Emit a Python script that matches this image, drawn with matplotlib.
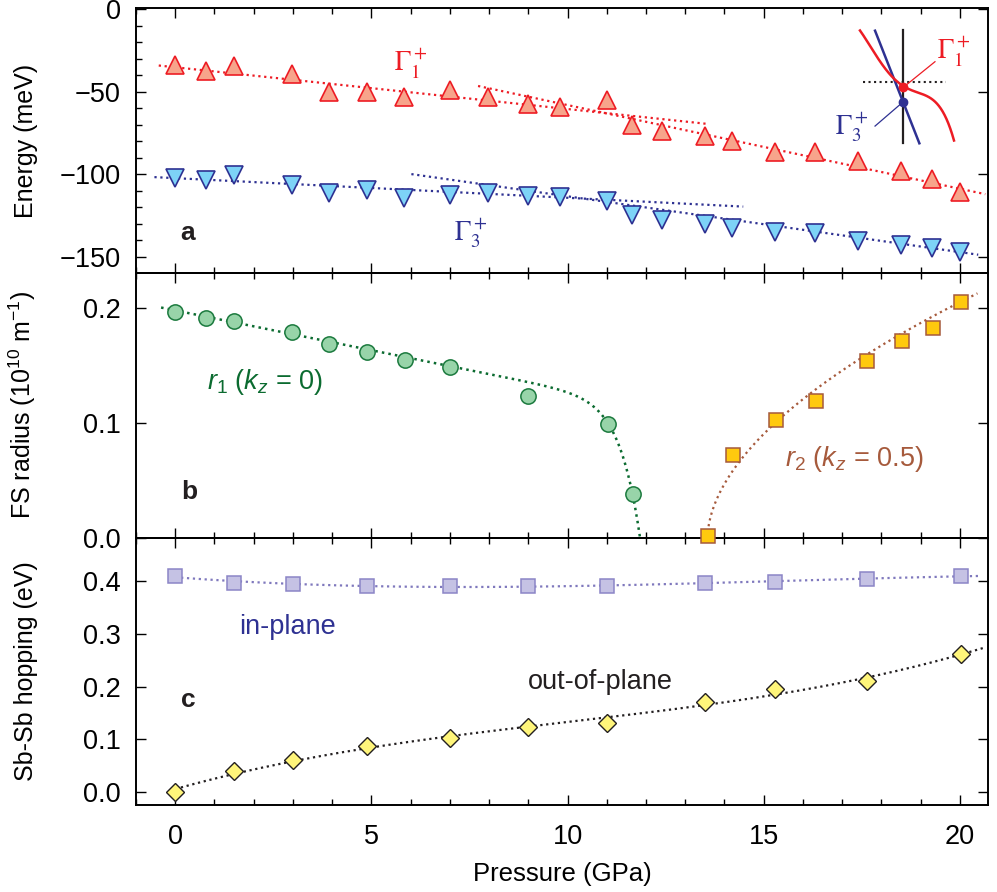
import numpy as np
import matplotlib
matplotlib.use("Agg")
import matplotlib.pyplot as plt
from matplotlib.ticker import MultipleLocator

plt.rcParams["font.family"] = ["Liberation Sans", "DejaVu Sans"]
plt.rcParams["mathtext.fontset"] = "custom"
plt.rcParams["mathtext.rm"] = "Liberation Sans"
plt.rcParams["mathtext.it"] = "Liberation Sans:italic"
plt.rcParams["mathtext.bf"] = "Liberation Sans:bold"

# ---- data ----
# panel a: energies at Gamma (meV)
p_gamma = [0, 0.79, 1.5, 2.98, 3.91, 4.9, 5.83, 7.0, 7.98, 9.0, 9.8,
           11.0, 11.65, 12.42, 13.5, 14.2, 15.3, 16.3, 17.4, 18.5, 19.3, 20.0]
e_g1 = [-33.6, -37.1, -34.2, -39.1, -50.2, -50.2, -53.2, -48.8, -53.2, -57.3, -58.9,
        -54.8, -70.0, -73.6, -76.5, -79.5, -86.6, -86.6, -91.6, -97.9, -102.7, -110.8]
e_g3 = [-102.3, -103.3, -100.3, -106.4, -111.0, -109.4, -114.4, -112.4, -111.0, -113.4, -114.0,
        -116.0, -124.5, -127.6, -130.0, -132.6, -134.7, -135.6, -140.1, -142.7, -144.7, -146.8]

# linear fits drawn as dotted lines: (p_start, p_end, intercept, slope)
fits_g1 = [(-0.42, 13.55, -35.1, -2.53), (7.72, 20.65, -7.3, -5.07)]
fits_g3 = [(-0.53, 14.48, -102.3, -1.19), (6.02, 20.47, -79.5, -3.38)]

# panel b: Fermi surface radii (1e10 1/m)
p_r1 = [0, 0.79, 1.5, 2.98, 3.91, 4.9, 5.85, 7.0, 9.0, 11.02, 11.66]
r1 = [0.1965, 0.1913, 0.1879, 0.1784, 0.1683, 0.1614, 0.1542, 0.1484, 0.1236, 0.0991, 0.038]
p_r2 = [13.57, 14.21, 15.31, 16.33, 17.63, 18.52, 19.33, 20.03]
r2 = [0.002, 0.072, 0.102, 0.1193, 0.1533, 0.1712, 0.1822, 0.2052]

# fit curve parameters
r1_fit = dict(a=0.1975, b=0.0069, pc=11.85, n=24, p0=-0.36)
r2_fit = dict(a=0.0742, pc=13.57, beta=0.545, p1=20.45)

# panel c: Sb-Sb hopping (eV)
p_hop = [0, 1.5, 3.0, 4.9, 7.0, 9.0, 11.0, 13.51, 15.3, 17.63, 20.03]
t_in = [0.410, 0.397, 0.394, 0.391, 0.391, 0.390, 0.3917, 0.397, 0.399, 0.4044, 0.410]
t_out = [0.0, 0.0393, 0.0603, 0.0869, 0.1015, 0.1236, 0.131, 0.170, 0.1947, 0.211, 0.261]

# inset schematic (inset axes units)
inset_red_u = [0.045, 0.136, 0.257, 0.348, 0.439, 0.561, 0.682, 0.788, 0.9]
inset_red_v = [0.968, 0.869, 0.684, 0.541, 0.493, 0.485, 0.413, 0.271, 0.049]

# colours
RED = "#ed1c24"
SALMON = "#f7a48b"
BLUE = "#2e3192"
SKY = "#7dd3f7"
GREEN = "#0b6b30"
GREEN_FACE = "#98d4a9"
GREEN_EDGE = "#1b7a3e"
ORANGE = "#ffc90e"
BROWN = "#a65a3c"
LAV_FACE = "#c5c2e4"
LAV_EDGE = "#8b85c6"
LAV_LINE = "#7f78bd"
YELLOW = "#fff57a"
INK = "#231f20"

FS = 19.5

fig = plt.figure(figsize=(9.97, 8.92), dpi=100)
left, width = 0.1364, 0.8546
ax_a = fig.add_axes([left, 0.6939, width, 0.2971])
ax_b = fig.add_axes([left, 0.3969, width, 0.2971])
ax_c = fig.add_axes([left, 0.0975, width, 0.2993])
ax_b.set_zorder(3)
ax_b.patch.set_alpha(0)

for ax in (ax_a, ax_b, ax_c):
    ax.set_xlim(-1.0, 20.72)
    ax.xaxis.set_major_locator(MultipleLocator(5))
    ax.xaxis.set_minor_locator(MultipleLocator(1))
    ax.tick_params(which="both", direction="in", top=True, right=True, width=1.0,
                   labelsize=FS)
    ax.tick_params(axis="y", pad=11)
    ax.tick_params(axis="x", pad=14)
    ax.tick_params(which="major", length=7)
    ax.tick_params(which="minor", length=4.5)
    ax.tick_params(axis="y", which="minor", right=False)
    for s in ax.spines.values():
        s.set_linewidth(1.4)
    ax.yaxis.set_label_coords(-0.115, 0.5)

ax_a.tick_params(labelbottom=False)
ax_b.tick_params(labelbottom=False)

# ---- panel a ----
ax = ax_a
for p0, p1, c0, c1 in fits_g1:
    pp = np.array([p0, p1])
    ax.plot(pp, c0 + c1 * pp, ls=":", color=RED, lw=1.6)
for p0, p1, c0, c1 in fits_g3:
    pp = np.array([p0, p1])
    ax.plot(pp, c0 + c1 * pp, ls=":", color=BLUE, lw=1.6)
ax.plot(p_gamma, e_g1, ls="none", marker="^", ms=12.5, mfc=SALMON, mec=RED, mew=1.2, zorder=4)
ax.plot(p_gamma, e_g3, ls="none", marker="v", ms=12.5, mfc=SKY, mec=BLUE, mew=1.2, zorder=4)
ax.set_ylim(-159.8, 0.8)
ax.yaxis.set_major_locator(MultipleLocator(50))
ax.yaxis.set_minor_locator(MultipleLocator(10))
ax.set_ylabel("Energy (meV)", fontsize=18)
ax.text(6.0, -33.0, r"$\Gamma_1^+$", color=RED, fontsize=FS, ha="center", va="center",
        math_fontfamily="stix")
ax.text(7.53, -136.0, r"$\Gamma_3^+$", color=BLUE, fontsize=FS, ha="center", va="center",
        math_fontfamily="stix")
ax.text(0.31, -135.5, "a", fontsize=19, fontweight="bold", ha="center", va="center", color=INK)

# inset schematic
ax_in = fig.add_axes([0.8576, 0.8374, 0.1103, 0.1312])
ax_in.set_xlim(0, 1)
ax_in.set_ylim(0, 1)
ax_in.axis("off")
coef = np.polyfit(inset_red_u, inset_red_v, 4)
uu = np.linspace(inset_red_u[0], inset_red_u[-1], 200)
ax_in.plot([0.075, 0.827], [0.541, 0.541], ls=":", color=INK, lw=1.5)
ax_in.plot([0.439, 0.439], [0.02, 0.983], color=INK, lw=1.6)
ax_in.plot([0.182, 0.585], [0.977, 0.015], color=BLUE, lw=1.8)
ax_in.plot(uu, np.polyval(coef, uu), color=RED, lw=1.8)
ax_in.plot([0.439, 0.727], [0.493, 0.712], color=RED, lw=0.9)
ax_in.plot([0.439, 0.182], [0.37, 0.162], color=BLUE, lw=0.9)
ax_in.plot([0.439], [0.493], "o", color=RED, ms=6)
ax_in.plot([0.439], [0.37], "o", color=BLUE, ms=6)
ax_in.text(0.745, 0.795, r"$\Gamma_1^+$", color=RED, fontsize=FS, ha="left", va="center",
           math_fontfamily="stix")
ax_in.text(0.12, 0.15, r"$\Gamma_3^+$", color=BLUE, fontsize=FS, ha="right", va="center",
           math_fontfamily="stix")

# ---- panel b ----
ax = ax_b
pp = np.linspace(r1_fit["p0"], r1_fit["pc"], 400)
ax.plot(pp, (r1_fit["a"] - r1_fit["b"] * pp) * (1 - (np.clip(pp, 0, None) / r1_fit["pc"]) ** r1_fit["n"]),
        ls=":", color=GREEN, lw=1.8)
pp = np.linspace(r2_fit["pc"], r2_fit["p1"], 400)
ax.plot(pp, r2_fit["a"] * (pp - r2_fit["pc"]) ** r2_fit["beta"], ls=":", color=BROWN, lw=1.6)
ax.plot(p_r1, r1, ls="none", marker="o", ms=11, mfc=GREEN_FACE, mec=GREEN_EDGE, mew=1.1, zorder=4)
ax.plot(p_r2, r2, ls="none", marker="s", ms=9.5, mfc=ORANGE, mec=BROWN, mew=1.1, zorder=4,
        clip_on=False)
ax.set_ylim(0, 0.23)
ax.yaxis.set_major_locator(MultipleLocator(0.1))
ax.set_ylabel(r"FS radius (10$^{10}$ m$^{-1}$)", fontsize=18)
ax.text(0.8, 0.1357, r"$r_1$ ($k_z$ = 0)", color=GREEN, fontsize=FS, ha="left", va="center")
ax.text(15.54, 0.0683, r"$r_2$ ($k_z$ = 0.5)", color=BROWN, fontsize=FS, ha="left", va="center")
ax.text(0.37, 0.0395, "b", fontsize=19, fontweight="bold", ha="center", va="center", color=INK)

# ---- panel c ----
ax = ax_c
c_in = np.polyfit(p_hop, t_in, 3)
c_out = np.polyfit(p_hop, t_out, 3)
pp = np.linspace(0, 20.53, 300)
ax.plot(pp, np.polyval(c_in, pp), ls=":", color=LAV_LINE, lw=1.6)
pp = np.linspace(0, 20.6, 300)
ax.plot(pp, np.polyval(c_out, pp), ls=":", color=INK, lw=1.6)
ax.plot(p_hop, t_in, ls="none", marker="s", ms=9.5, mfc=LAV_FACE, mec=LAV_EDGE, mew=1.1, zorder=4)
ax.plot(p_hop, t_out, ls="none", marker="D", ms=9.2, mfc=YELLOW, mec=INK, mew=1.0, zorder=4)
ax.set_ylim(-0.025, 0.482)
ax.yaxis.set_major_locator(MultipleLocator(0.1))
ax.set_ylabel("Sb-Sb hopping (eV)", fontsize=18)
ax.set_xlabel("Pressure (GPa)", fontsize=18.5, labelpad=8)
ax.text(1.64, 0.313, "in-plane", color=BLUE, fontsize=FS, ha="left", va="center")
ax.text(8.99, 0.2086, "out-of-plane", color=INK, fontsize=FS, ha="left", va="center")
ax.text(0.33, 0.174, "c", fontsize=19, fontweight="bold", ha="center", va="center", color=INK)

fig.savefig("out.png", dpi=100)
